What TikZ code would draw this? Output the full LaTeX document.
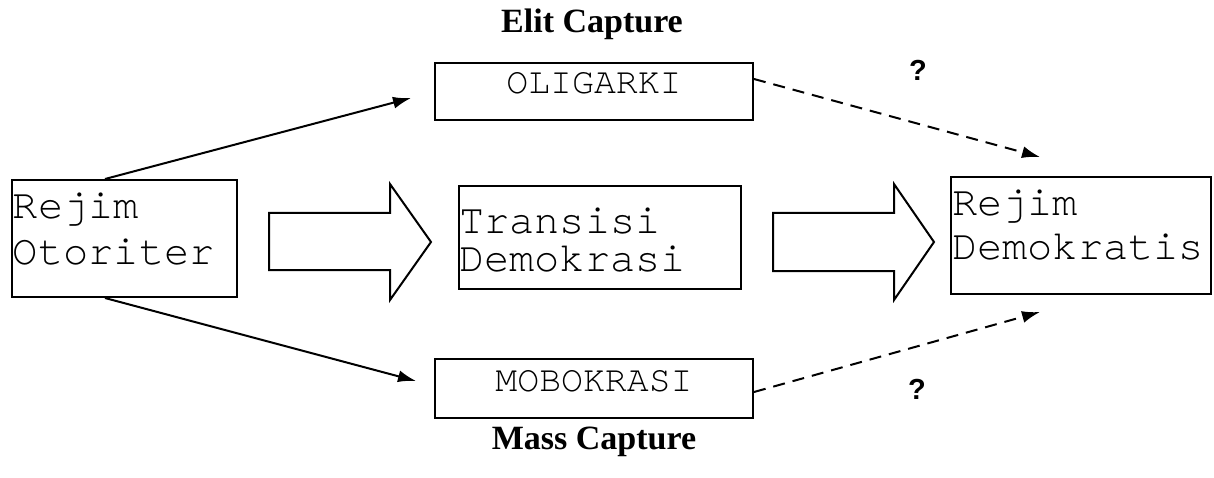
\documentclass[tikz,border=0pt]{standalone}
\usepackage{fontspec}
\setmainfont{Liberation Serif}
\setmonofont{TeX Gyre Cursor}
\setsansfont{Liberation Sans}
\usetikzlibrary{arrows.meta,calc}
\begin{document}
\begin{tikzpicture}[x=1pt,y=-1pt,
  box/.style={draw, line width=2pt, inner sep=0pt, anchor=north west, font=\ttfamily},
  conn/.style={line width=2pt, -{Latex[length=18pt,width=12pt]}},
  dconn/.style={conn, dash pattern=on 12pt off 8pt},
  blockarrow/.style={draw, line width=2pt, line join=miter},
  title/.style={font=\fontsize{34}{36}\selectfont\bfseries, anchor=base},
  qmark/.style={font=\fontsize{29}{30}\selectfont\sffamily\bfseries, anchor=base}]
\useasboundingbox (0,0) rectangle (1214,478);

\node[box] (ro) at (11,179) {\parbox[c][117pt][t]{225pt}{\raggedright\leftskip=1pt\fontsize{42}{46}\selectfont\rule{0pt}{38pt}Rejim\\Otoriter}};
\node[box] (td) at (458,185) {\parbox[c][103pt][t]{282pt}{\raggedright\leftskip=0pt\fontsize{42}{38}\selectfont\rule{0pt}{48pt}Transisi\\Demokrasi}};
\node[box] (rd) at (950,176) {\parbox[c][117pt][t]{260pt}{\raggedright\leftskip=1pt\fontsize{42}{44}\selectfont\rule{0pt}{38pt}Rejim\\Demokratis}};
\node[box] (ol) at (434,62) {\parbox[c][57pt][t]{318pt}{\centering\fontsize{36.5}{40}\selectfont\rule{0pt}{31pt}OLIGARKI}};
\node[box] (mo) at (434,358) {\parbox[c][59pt][t]{318pt}{\centering\fontsize{36.5}{40}\selectfont\rule{0pt}{32pt}MOBOKRASI}};

\node[title] (elit) at (592,33) {Elit Capture};
\node[title] (mass) at (594,449) {Mass Capture};
\node[qmark] (q1) at (918,81) {?};
\node[qmark] (q2) at (917,399) {?};

% block arrows
\draw[blockarrow] (269,213) -- (390,213) -- (390,184) -- (431,242) -- (390,300) -- (390,270) -- (269,270) -- cycle;
\draw[blockarrow] (773,213) -- (894,213) -- (894,184) -- (934,242) -- (894,300) -- (894,271) -- (773,271) -- cycle;

% connectors
\coordinate (olin) at (411,98);
\coordinate (moin) at (416,381);
\coordinate (rdup) at (1040,157);
\coordinate (rddn) at (1040,312);
\draw[conn] ($(ro.north west)+(94,0)$) -- (olin);
\draw[conn] ($(ro.south west)+(94,0)$) -- (moin);
\draw[dconn] ($(ol.north east)+(0,17)$) -- (rdup);
\draw[dconn] ($(mo.north east)+(0,34)$) -- (rddn);
\end{tikzpicture}
\end{document}
